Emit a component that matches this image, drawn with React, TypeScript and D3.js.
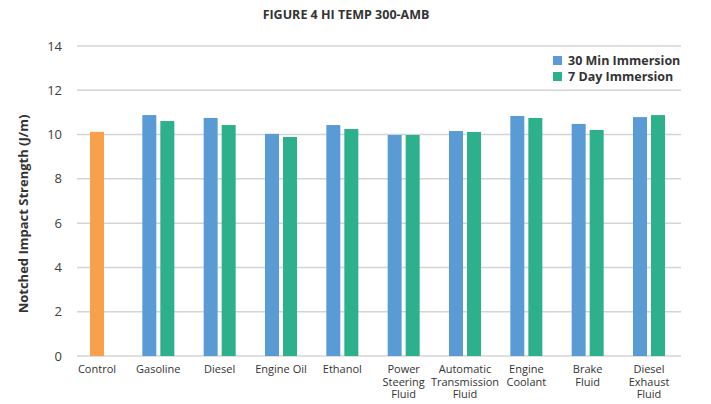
import React from "react";
import * as d3 from "d3";

const categories = [
  "Control",
  "Gasoline",
  "Diesel",
  "Engine Oil",
  "Ethanol",
  "Power Steering Fluid",
  "Automatic Transmission Fluid",
  "Engine Coolant",
  "Brake Fluid",
  "Diesel Exhaust Fluid",
];
const categoryLines = [
  ["Control"],
  ["Gasoline"],
  ["Diesel"],
  ["Engine Oil"],
  ["Ethanol"],
  ["Power", "Steering", "Fluid"],
  ["Automatic", "Transmission", "Fluid"],
  ["Engine", "Coolant"],
  ["Brake", "Fluid"],
  ["Diesel", "Exhaust", "Fluid"],
];
const controlValue = 10.12;
const min30Values = [null, 10.88, 10.75, 10.03, 10.43, 9.98, 10.16, 10.84, 10.48, 10.79];
const day7Values = [null, 10.61, 10.43, 9.89, 10.25, 9.98, 10.12, 10.75, 10.21, 10.88];
const yTicks = [0, 2, 4, 6, 8, 10, 12, 14];
const seriesNames = ["30 Min Immersion", "7 Day Immersion"];

const W = 711;
const H = 404;
const plotLeft = 77;
const plotRight = 681;
const plotTop = 46;
const plotBottom = 356;
const BLUE = "#5B9BD5";
const GREEN = "#2DB08C";
const ORANGE = "#F8A04A";
const FONT = "'Open Sans', 'Noto Sans', sans-serif";

export default function App() {
  const y = d3.scaleLinear().domain([0, 14]).range([plotBottom, plotTop]);
  const x = d3.scalePoint<string>().domain(categories).range([97, 649]);
  const barW = 14;
  const gap = 2;

  return (
    <svg
      width={W}
      height={H}
      style={{ position: "absolute", left: 0, top: 0, background: "#fff" }}
      fontFamily={FONT}
    >
      <text x={346} y={19} textAnchor="middle" fontSize={12.5} fontWeight="bold" fill="#333">
        FIGURE 4 HI TEMP 300-AMB
      </text>
      {yTicks.map((t) => (
        <g key={t}>
          <line x1={plotLeft} x2={plotRight} y1={y(t)} y2={y(t)} stroke="#D4D4D4" strokeWidth={1.5} />
          <text x={62} y={y(t)} dy="0.35em" textAnchor="end" fontSize={13} fill="#404040">
            {t}
          </text>
        </g>
      ))}
      <text
        transform={`translate(23,${214}) rotate(-90)`}
        textAnchor="middle"
        dy="0.35em"
        fontSize={13}
        fontWeight="bold"
        fill="#333"
      >
        Notched Impact Strength (J/m)
      </text>
      <rect
        x={x("Control")! - barW / 2}
        y={y(controlValue)}
        width={barW}
        height={y(0) - y(controlValue)}
        fill={ORANGE}
      />
      {categories.map((c, i) => {
        const cx = x(c)!;
        const a = min30Values[i];
        const b = day7Values[i];
        return (
          <g key={c}>
            {a != null && (
              <rect x={cx - gap - barW} y={y(a)} width={barW} height={y(0) - y(a)} fill={BLUE} />
            )}
            {b != null && (
              <rect x={cx + gap} y={y(b)} width={barW} height={y(0) - y(b)} fill={GREEN} />
            )}
          </g>
        );
      })}
      {categories.map((c, i) =>
        categoryLines[i].map((ln, j) => (
          <text
            key={c + j}
            x={x(c)!}
            y={373 + j * 12.5}
            textAnchor="middle"
            fontSize={11}
            fill="#333"
          >
            {ln}
          </text>
        ))
      )}
      <rect x={543} y={52} width={138} height={34} fill="#fff" />
      {seriesNames.map((s, i) => (
        <g key={s} transform={`translate(553,${56 + i * 16})`}>
          <rect width={9} height={9} fill={i === 0 ? BLUE : GREEN} />
          <text x={15} y={4.5} dy="0.35em" fontSize={12.5} fontWeight="bold" fill="#333">
            {s}
          </text>
        </g>
      ))}
    </svg>
  );
}
